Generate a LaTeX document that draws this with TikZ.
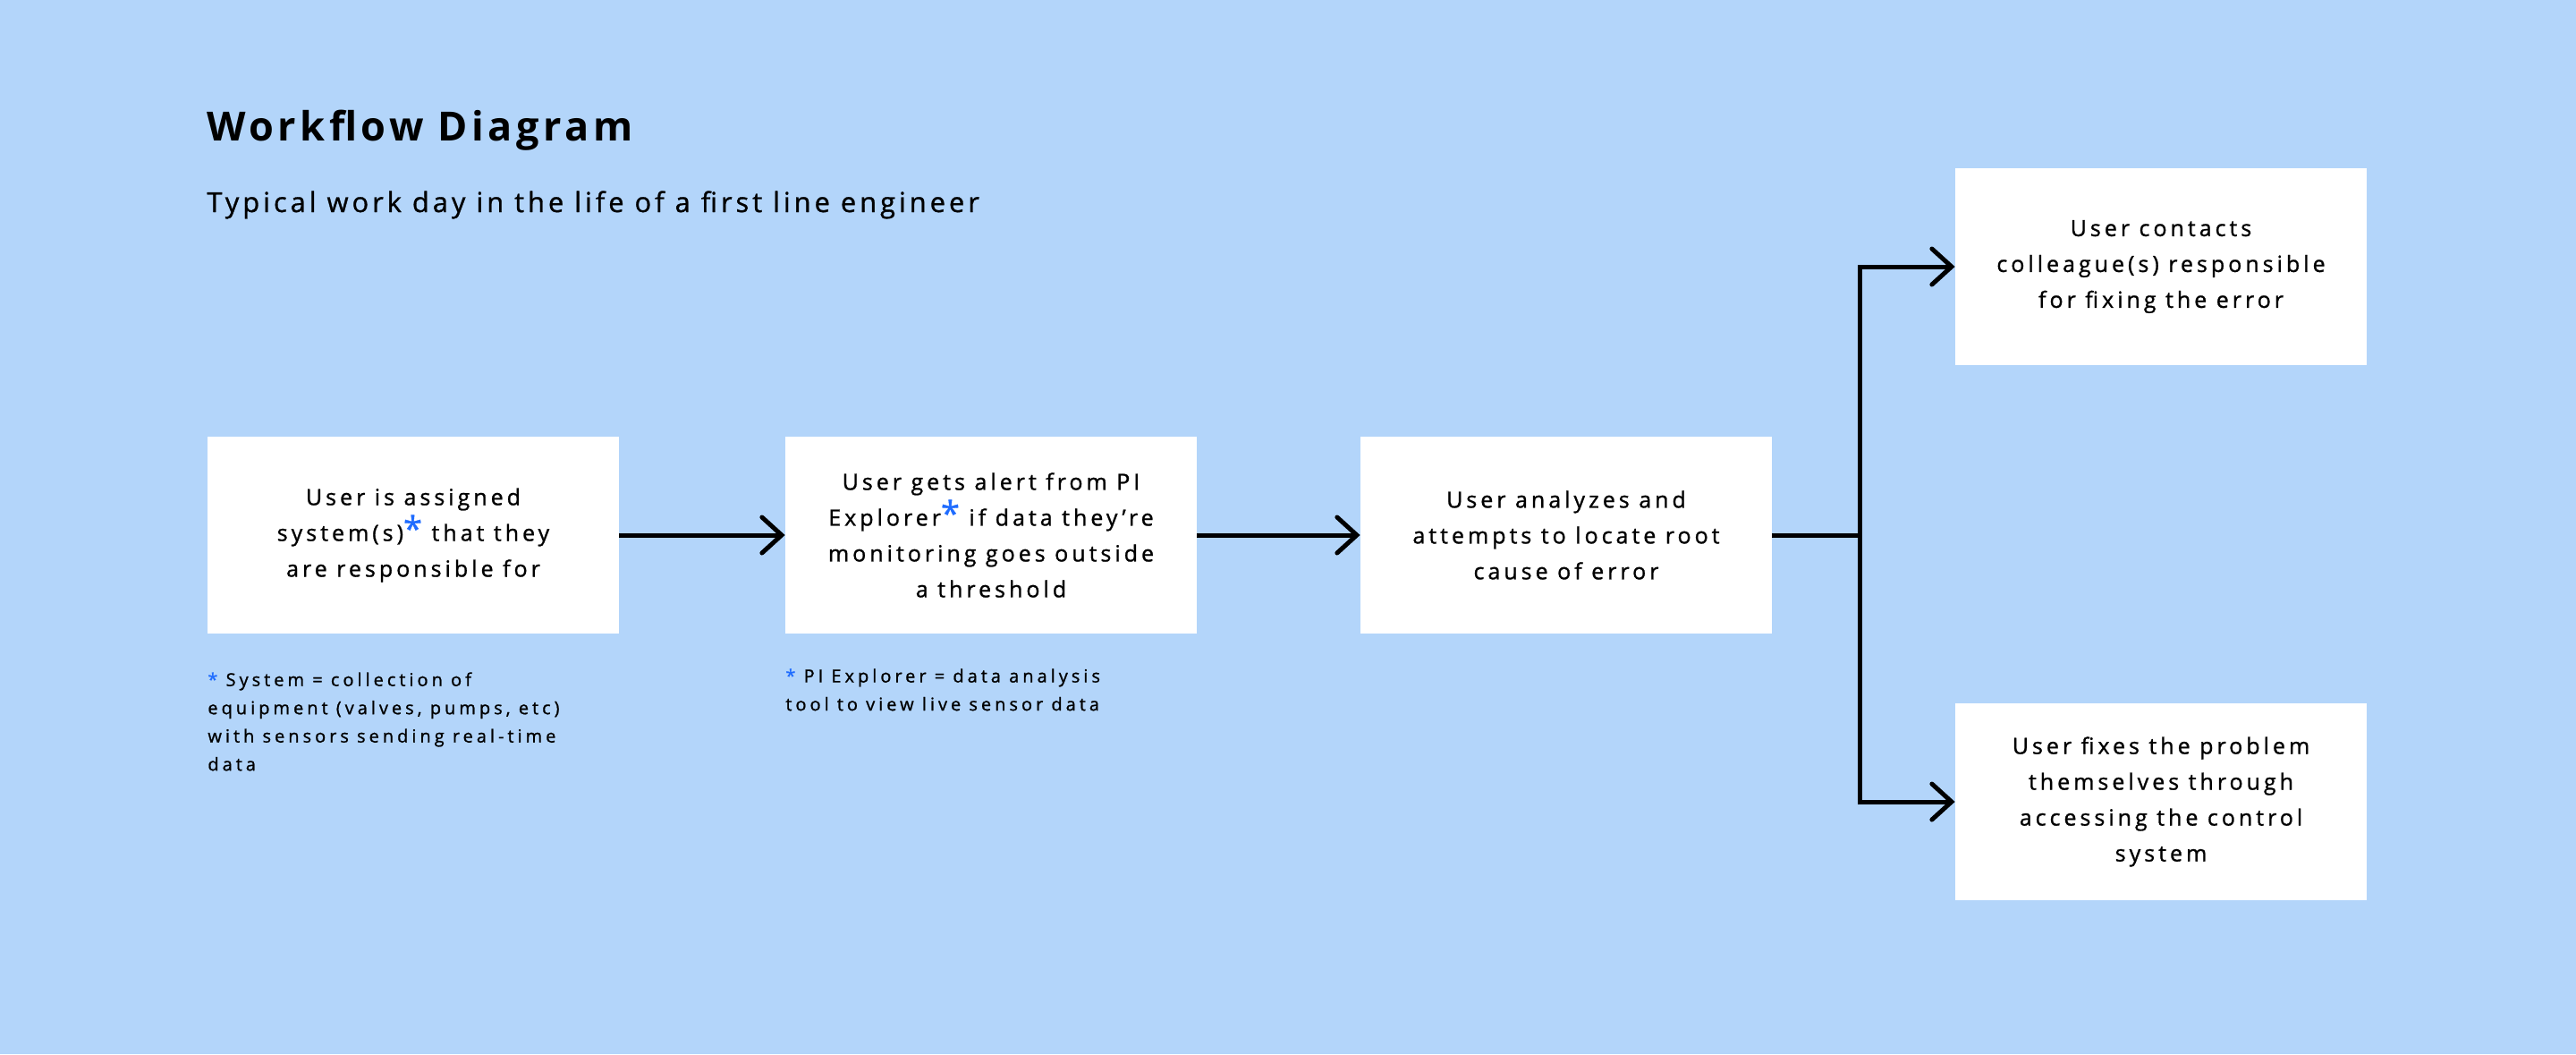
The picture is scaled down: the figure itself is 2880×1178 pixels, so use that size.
\documentclass[tikz,border=0pt]{standalone}
\usepackage{fontspec}
\setmainfont{Open Sans}[LetterSpace=8]
\newfontfamily\titlefont{Open Sans}[LetterSpace=10]
\newfontfamily\subfont{Open Sans}[LetterSpace=13, FakeBold=1]
\newfontfamily\boxfont{Open Sans}[LetterSpace=16, FakeBold=1]
\newfontfamily\notefont{Open Sans}[LetterSpace=20, FakeBold=1]
\usetikzlibrary{arrows.meta}
\definecolor{bgBlue}{RGB}{179,213,250}
\definecolor{starBlue}{RGB}{31,108,255}
\newcommand{\boxstar}{{\color{starBlue}\fontsize{19}{19}\selectfont *}}
\newcommand{\notestar}{{\color{starBlue}*}}

\begin{document}
\begin{tikzpicture}[x = 0.5pt, y = -0.5pt, >={Straight Barb[length = 11pt, width = 20pt, line cap = round]}]
\tikzstyle{stepBox} = [fill = white, minimum width = 230pt, minimum height = 110pt, inner sep = 0pt, align = center, font = \boxfont\fontsize{12.5}{20}\selectfont, execute at begin node = {\rule{0pt}{14pt}}]
\tikzstyle{noteStyle} = [anchor = north west, inner sep = 0pt, align = left, font = \notefont\fontsize{10}{15.75}\selectfont]
\tikzstyle{flowLine} = [line width = 2.5pt]
\tikzstyle{flowArrow} = [flowLine, ->]
\fill[bgBlue] (0,0) rectangle (2880,1178);
\node[anchor = base west, inner sep = 0pt, font = \titlefont\bfseries\fontsize{22.5}{27}\selectfont] (title) at (231,157) {Workflow Diagram};
\node[anchor = base west, inner sep = 0pt, font = \subfont\fontsize{15.4}{18}\selectfont] (subtitle) at (231,237) {Typical work day in the life of a first line engineer};
\node[stepBox] (assign) at (462,598) {User is assigned\\system(s)\boxstar{} that they\\are responsible for};
\node[stepBox] (alert) at (1108,598) {User gets alert from PI\\Explorer\boxstar{} if data they’re\\monitoring goes outside\\a threshold};
\node[stepBox] (analyze) at (1751,598) {User analyzes and\\attempts to locate root\\cause of error};
\node[stepBox] (contact) at (2416,298) {User contacts\\colleague(s) responsible\\for fixing the error};
\node[stepBox] (fix) at (2416,896) {User fixes the problem\\themselves through\\accessing the control\\system};
\node[noteStyle] (systemNote) at (232,751) {\notestar{} System = collection of\\equipment (valves, pumps, etc)\\with sensors sending real-time\\data};
\node[noteStyle] (explorerNote) at (878,747) {\notestar{} PI Explorer = data analysis\\tool to view live sensor data};
\coordinate (split) at (2079,598);
\draw[flowArrow] (assign) -- (alert);
\draw[flowArrow] (alert) -- (analyze);
\draw[flowLine] (analyze.east) -- (split);
\draw[flowLine, <->] (contact.west) -| (split) |- (fix.west);
\end{tikzpicture}
\end{document}
